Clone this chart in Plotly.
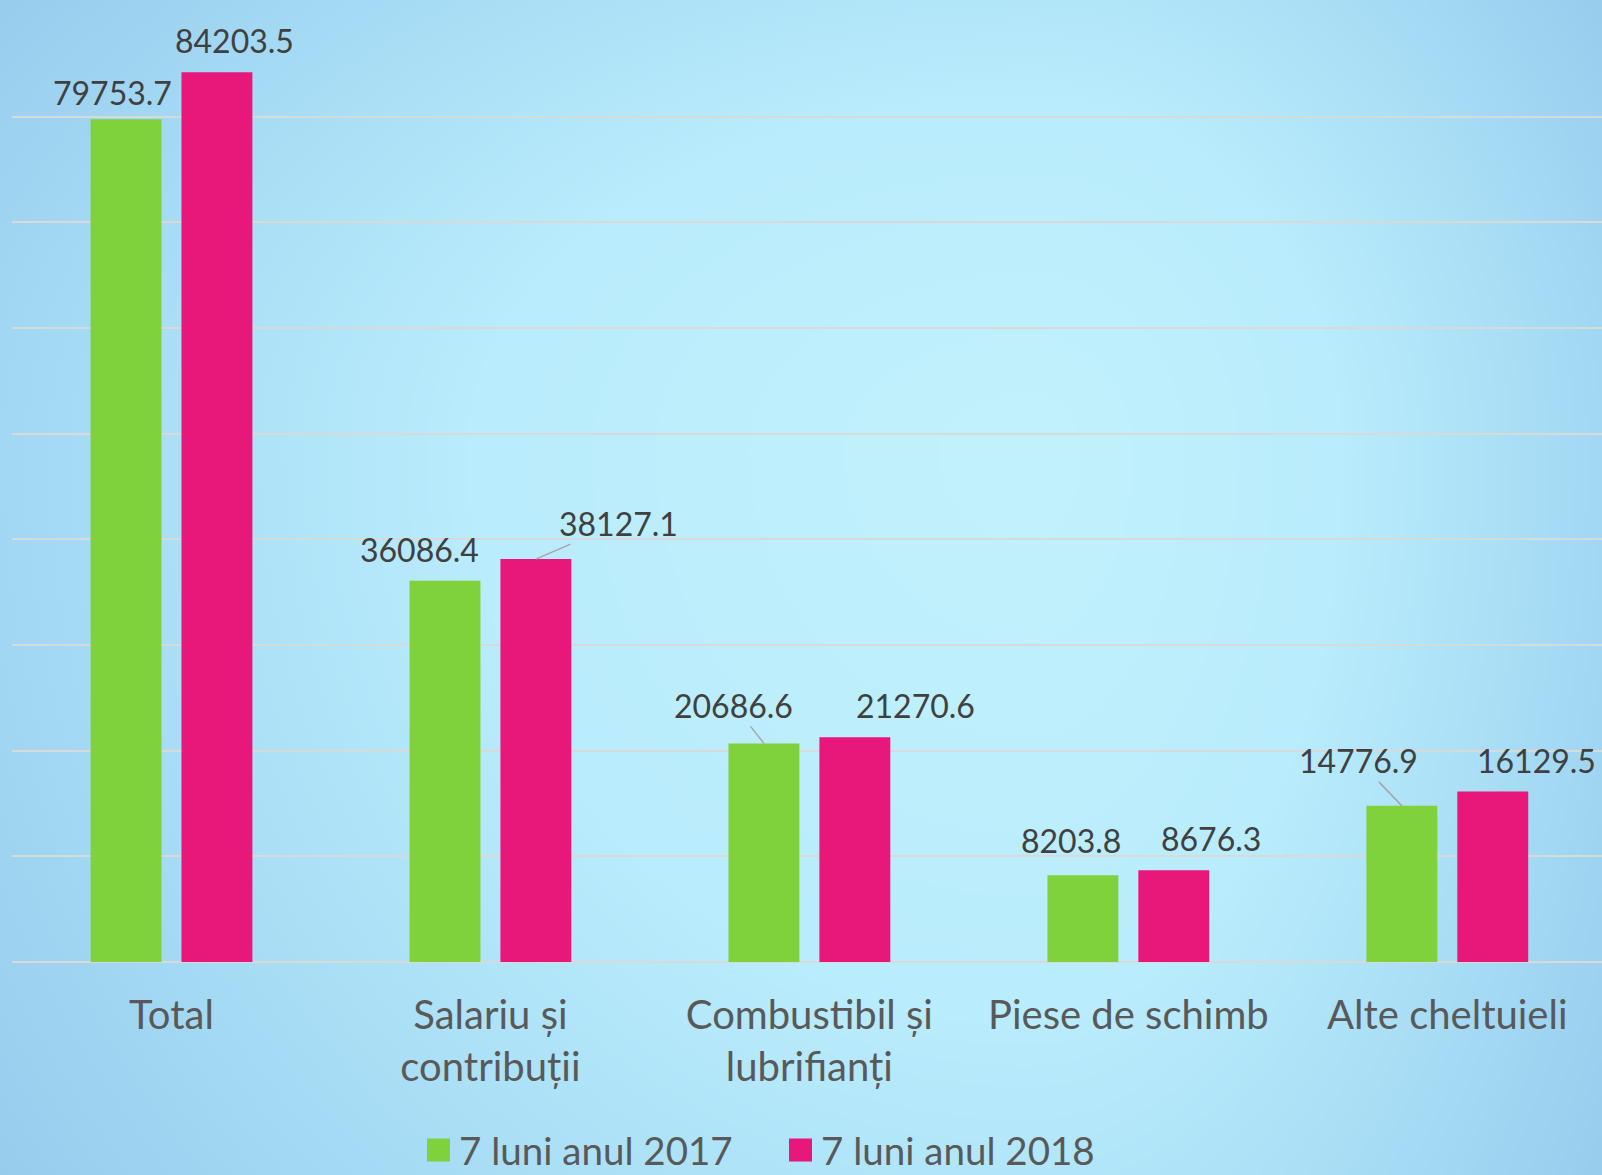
import base64
import struct
import zlib

import numpy as np
import plotly.graph_objects as go

# ---------------- data ----------------
categories = ["Total", "Salariu și contribuții", "Combustibil și lubrifianți",
              "Piese de schimb", "Alte cheltuieli"]
tick_labels = ["Total", "Salariu și<br>contribuții", "Combustibil și<br>lubrifianți",
               "Piese de schimb", "Alte cheltuieli"]
series_names = ["7 luni anul 2017", "7 luni anul 2018"]
values_2017 = [79753.7, 36086.4, 20686.6, 8203.8, 14776.9]
values_2018 = [84203.5, 38127.1, 21270.6, 8676.3, 16129.5]

# ---------------- styling ----------------
COLORS = ["#7fd23b", "#e8177a"]
FONT = "Lato, 'Open Sans', sans-serif"
W, H = 1602, 1175
ML, MR, MT, MB = 12, 0, 11, 213
PW, PH = W - ML - MR, H - MT - MB
X_RANGE = [-0.5, 4.485]
Y_RANGE = [0, 90000]
BARGAP, BARGROUPGAP = 0.43, 0.22

# label offsets (px) of the label centre relative to the bar's top centre, leader line flag
label_style = [
    [(-14, -27, False), (-25, -31, False), (-30, -38, True), (-12, -35, False), (-43, -45, True)],
    [(18, -32, False), (83, -36, True), (61, -32, False), (37, -32, False), (44, -31, False)],
]


def gradient_png(w=400, h=294):
    xs = (np.arange(w) + 0.5) / w * W
    ys = (np.arange(h) + 0.5) / h * H
    X, Y = np.meshgrid(xs, ys)
    cx, cy = 1030.0, 450.0
    dx = np.where(X < cx, (X - cx) / cx, (X - cx) / (W - cx))
    dy = np.where(Y < cy, (Y - cy) / (cy * 1.45), (Y - cy) / ((H - cy) * 1.45))
    t = np.sqrt(dx ** 2 + dy ** 2)
    stops = [0.0, 0.55, 1.0, 1.25]
    r = np.interp(t, stops, [194, 185, 162, 151])
    g = np.interp(t, stops, [242, 236, 216, 203])
    b = np.interp(t, stops, [253, 252, 243, 237])
    img = np.clip(np.stack([r, g, b], axis=-1), 0, 255).astype(np.uint8)
    raw = b"".join(b"\x00" + row.tobytes() for row in img)

    def chunk(tag, data):
        return (struct.pack(">I", len(data)) + tag + data
                + struct.pack(">I", zlib.crc32(tag + data) & 0xFFFFFFFF))

    png = (b"\x89PNG\r\n\x1a\n"
           + chunk(b"IHDR", struct.pack(">IIBBBBB", w, h, 8, 2, 0, 0, 0))
           + chunk(b"IDAT", zlib.compress(raw, 9))
           + chunk(b"IEND", b""))
    return "data:image/png;base64," + base64.b64encode(png).decode()


def px2x(px):
    return (px - ML) / PW


def py2y(py):
    return (H - MB - py) / PH


fig = go.Figure()
all_values = [values_2017, values_2018]
for name, vals, color in zip(series_names, all_values, COLORS):
    fig.add_trace(go.Bar(x=categories, y=vals, name=name, marker_color=color,
                         marker_line_width=0, showlegend=False, hoverinfo="x+y+name"))

# pixel offset of each bar centre relative to the category centre
cat_px = PW / (X_RANGE[1] - X_RANGE[0])
slot_px = (1 - BARGAP) * cat_px / 2
bar_offsets = [-slot_px / 2, slot_px / 2]

annotations = []
for s, vals in enumerate(all_values):
    for i, v in enumerate(vals):
        dx, dy, leader = label_style[s][i]
        common = dict(x=categories[i], y=v, xref="x", yref="y", text=f"{v:.1f}",
                      font=dict(family=FONT, size=32, color="#404040"),
                      xanchor="center", yanchor="middle")
        if leader:
            annotations.append(dict(**common, showarrow=True, arrowhead=0, arrowwidth=1.5,
                                    arrowcolor="#a6a6a6", ax=dx, ay=dy,
                                    xshift=bar_offsets[s]))
        else:
            annotations.append(dict(**common, showarrow=False,
                                    xshift=bar_offsets[s] + dx, yshift=-dy))

# manual legend (large square swatches)
legend_items = [(427, 457), (789, 819)]
legend_cy = 1150
shapes = []
for (sq_x, tx), name, color in zip(legend_items, series_names, COLORS):
    shapes.append(dict(type="rect", xref="paper", yref="paper",
                       x0=px2x(sq_x), x1=px2x(sq_x + 23),
                       y0=py2y(legend_cy + 11.5), y1=py2y(legend_cy - 11.5),
                       fillcolor=color, line_width=0, layer="above"))
    annotations.append(dict(x=px2x(tx), y=py2y(legend_cy), xref="paper", yref="paper",
                            text=name, showarrow=False, xanchor="left", yanchor="middle",
                            font=dict(family=FONT, size=38.5, color="#595959")))

fig.update_layout(
    width=W, height=H, autosize=False,
    margin=dict(l=ML, r=MR, t=MT, b=MB, pad=0),
    paper_bgcolor="#aee0f6", plot_bgcolor="rgba(0,0,0,0)",
    barmode="group", bargap=BARGAP, bargroupgap=BARGROUPGAP,
    font=dict(family=FONT, color="#595959"),
    showlegend=False,
    annotations=annotations,
    shapes=shapes,
    images=[dict(source=gradient_png(), xref="paper", yref="paper",
                 x=-ML / PW, y=1 + MT / PH, sizex=W / PW, sizey=H / PH,
                 xanchor="left", yanchor="top", sizing="stretch", layer="below")],
)
fig.update_xaxes(range=X_RANGE, tickmode="array", tickvals=categories, ticktext=tick_labels,
                 tickfont=dict(family=FONT, size=40, color="#595959"),
                 showgrid=False, showline=False, ticks="", ticklabelstandoff=26,
                 zeroline=False, fixedrange=True)
fig.update_yaxes(range=Y_RANGE, dtick=10000, showticklabels=False, showgrid=True,
                 gridcolor="#d9d9d9", gridwidth=2, zeroline=True, zerolinecolor="#d9d9d9",
                 zerolinewidth=2, showline=False, ticks="", fixedrange=True)

fig.write_html("out.html", config={"displayModeBar": False},
               post_script="document.body.style.margin='0px';"
                           "document.body.style.overflow='hidden';")
